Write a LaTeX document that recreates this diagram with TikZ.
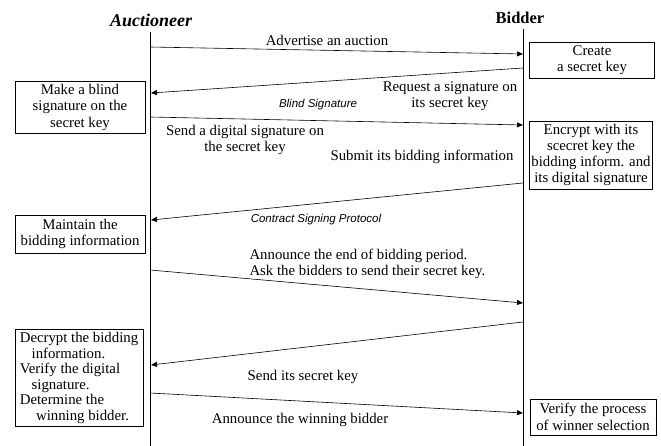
\documentclass[tikz,border=0pt]{standalone}
\usepackage{fontspec}
\setmainfont{Liberation Serif}
\newfontfamily\protofont{Liberation Sans}
\usetikzlibrary{arrows.meta}

\begin{document}
\begin{tikzpicture}[
    x=1pt, y=-1pt,
    font=\fontsize{14.8}{16.5}\selectfont,
    actor/.style={font=\fontsize{16.5}{19}\selectfont\bfseries},
    task/.style={draw, line width=0.6pt, align=center, inner sep=2pt},
    lbl/.style={align=center},
    proto/.style={font=\fontsize{11.5}{13}\selectfont\protofont\itshape},
    msg/.style={line width=0.6pt, -{Triangle[length=6pt,width=5pt]}},
    life/.style={line width=0.6pt}
  ]
  \useasboundingbox (0,0) rectangle (661,446);

  % lifelines
  \node[actor, font=\fontsize{18}{20}\selectfont\bfseries\itshape] (auc) at (151,20) {Auctioneer};
  \node[actor] (bid) at (520,18) {Bidder};
  \coordinate (auctop) at (150,32);
  \coordinate (aucbot) at (150,446);
  \coordinate (bidtop) at (523,29);
  \coordinate (bidbot) at (523,446);
  \draw[life] (auctop) -- (aucbot);
  \draw[life] (bidtop) -- (bidbot);

  % message ends
  \coordinate (a1) at (150,47);  \coordinate (b1) at (523,54);
  \coordinate (b2) at (523,68);  \coordinate (a2) at (151,93);
  \coordinate (a3) at (150,117); \coordinate (b3) at (523,125);
  \coordinate (b4) at (523,183); \coordinate (a4) at (151,220);
  \coordinate (a5) at (150,270); \coordinate (b5) at (523,303);
  \coordinate (b6) at (523,322); \coordinate (a6) at (151,365);
  \coordinate (a7) at (150,393); \coordinate (b7) at (523,413);

  \draw[msg] (a1) -- (b1);
  \draw[msg] (b2) -- (a2);
  \draw[msg] (a3) -- (b3);
  \draw[msg] (b4) -- (a4);
  \draw[msg] (a5) -- (b5);
  \draw[msg] (b6) -- (a6);
  \draw[msg] (a7) -- (b7);

  % activity boxes
  \node[task, minimum width=125pt, minimum height=36pt] (create) at (592,60) {Create\\a secret key};
  \node[task, minimum width=130pt, minimum height=52pt] (blind) at (80,107) {Make a blind\\signature on the\\secret key};
  \node[task, minimum width=122pt, minimum height=68pt, font=\fontsize{14.8}{15.8}\selectfont] (encrypt) at (591,155) {Encrypt with its\\scecret key the\\bidding inform. and\\its digital signature};
  \node[task, minimum width=130pt, minimum height=38pt] (maintain) at (80,234) {Maintain the\\bidding information};
  \node[task, align=left, minimum width=128pt, minimum height=97pt, font=\fontsize{14.8}{15.5}\selectfont] (decrypt) at (79,378) {Decrypt the bidding\\\hspace*{0.8em}information.\\Verify the digital\\\hspace*{0.8em}signature.\\Determine the\\\hspace*{1.1em}winning bidder.};
  \node[task, minimum width=126pt, minimum height=36pt] (verify) at (593,417) {Verify the process\\of winner selection};

  % message labels
  \node (adv) at (327,40) {Advertise an auction};
  \node[lbl] (req) at (450,96) {Request a signature on\\its secret key};
  \node[proto] (blindsig) at (318,105) {Blind Signature};
  \node[lbl] (send) at (245,140) {Send a digital signature on\\the secret key};
  \node[anchor=east] (submit) at (517,157) {Submit its bidding information};
  \node[proto] (csp) at (316,220) {Contract Signing Protocol};
  \node[align=left, anchor=west] (announce) at (246,264) {Announce the end of bidding period.\\Ask the bidders to send their secret key.};
  \node (sendkey) at (303,377) {Send its secret key};
  \node (winner) at (300,420) {Announce the winning bidder};
\end{tikzpicture}
\end{document}
